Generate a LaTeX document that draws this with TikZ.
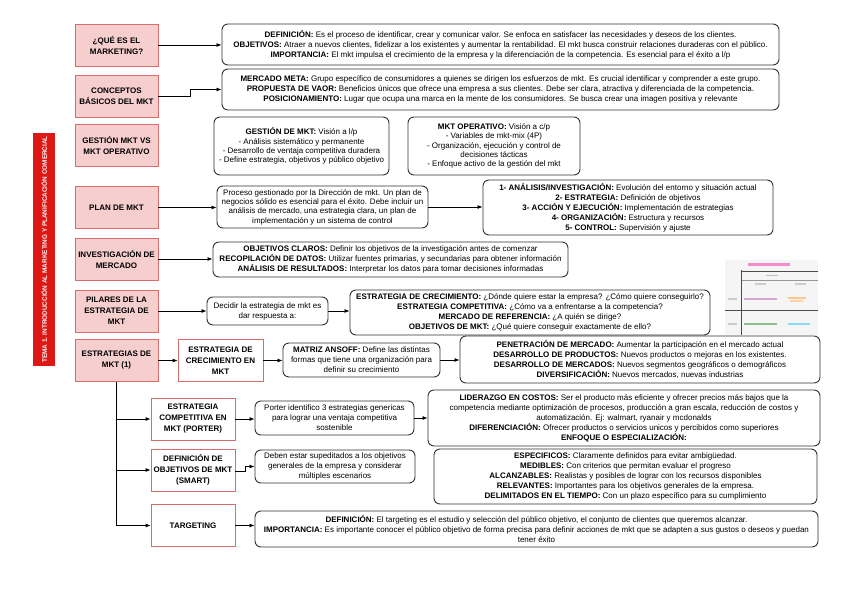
\documentclass[tikz,border=0pt]{standalone}
\usepackage{fontspec}
\setmainfont{Liberation Sans}
\usetikzlibrary{arrows.meta}
\definecolor{pinkfill}{RGB}{246,206,206}
\definecolor{pinkline}{RGB}{214,110,110}
\definecolor{boxline}{RGB}{50,50,50}
\definecolor{barred}{RGB}{222,24,20}
\newcommand\kw[1]{\textbf{#1}}
\tikzset{
  rbox/.style={draw=boxline, rounded corners=6pt, line width=0.9pt, align=center, inner sep=0pt,
    font=\fontsize{8}{10}\selectfont},
  pbox/.style={draw=pinkline, fill=pinkfill, line width=0.8pt, align=center, inner sep=1pt,
    minimum width=83, minimum height=42, font=\bfseries\fontsize{8}{11}\selectfont},
  wbox/.style={pbox, fill=white},
  arr/.style={-{Latex[length=5pt,width=4pt]}, line width=0.8pt, draw=black},
  tight/.style={font=\fontsize{8}{9.4}\selectfont}
}
\begin{document}
\begin{tikzpicture}[x=1pt,y=-1pt]
\useasboundingbox (0,0) rectangle (848,599);
\fill[white] (0,0) rectangle (848,599);

% red bar
\node[rotate=90, fill=barred, minimum width=233, minimum height=22, inner sep=0pt,
  text=white, font=\bfseries\fontsize{6.4}{7}\selectfont] (bar) at (44,249.5)
  {TEMA 1. INTRODUCCIÓN AL MARKETING Y PLANIFICACIÓN COMERCIAL};

% left pink boxes
\node[pbox] (l1) at (116.5,45) {¿QUÉ ES EL\\MARKETING?};
\node[pbox] (l2) at (116.5,96.5) {CONCEPTOS\\BÁSICOS DEL MKT};
\node[pbox] (l3) at (116.5,145) {GESTIÓN MKT VS\\MKT OPERATIVO};
\node[pbox] (l4) at (116.5,207.5) {PLAN DE MKT};
\node[pbox] (l5) at (116.5,259) {INVESTIGACIÓN DE\\MERCADO};
\node[pbox] (l6) at (116.5,311) {PILARES DE LA\\ESTRATEGIA DE\\MKT};
\node[pbox] (l7) at (116.5,360.5) {ESTRATEGIAS DE\\MKT (1)};

% white red-bordered boxes
\node[wbox, minimum width=85] (w1) at (220.5,360.5) {ESTRATEGIA DE\\CRECIMIENTO EN\\MKT};
\node[wbox, minimum width=84] (w2) at (193,419) {ESTRATEGIA\\COMPETITIVA EN\\MKT (PORTER)};
\node[wbox, minimum width=84] (w3) at (193,470) {DEFINICIÓN DE\\OBJETIVOS DE MKT\\(SMART)};
\node[wbox, minimum width=84] (w4) at (193,525.5) {TARGETING};

% right rounded boxes
\node[rbox, minimum width=557, minimum height=41] (qa) at (500.5,44.5) {%
\kw{DEFINICIÓN:} Es el proceso de identificar, crear y comunicar valor. Se enfoca en satisfacer las necesidades y deseos de los clientes.\\
\kw{OBJETIVOS:} Atraer a nuevos clientes, fidelizar a los existentes y aumentar la rentabilidad. El mkt busca construir relaciones duraderas con el público.\\
\kw{IMPORTANCIA:} El mkt impulsa el crecimiento de la empresa y la diferenciación de la competencia. Es esencial para el éxito a l/p};

\node[rbox, minimum width=557, minimum height=41] (qb) at (500.5,89.5) {%
\kw{MERCADO META:} Grupo específico de consumidores a quienes se dirigen los esfuerzos de mkt. Es crucial identificar y comprender a este grupo.\\
\kw{PROPUESTA DE VAOR:} Beneficios únicos que ofrece una empresa a sus clientes. Debe ser clara, atractiva y diferenciada de la competencia.\\
\kw{POSICIONAMIENTO:} Lugar que ocupa una marca en la mente de los consumidores. Se busca crear una imagen positiva y relevante};

\node[rbox, tight, minimum width=175, minimum height=58] (gc1) at (301.5,146) {%
\kw{GESTIÓN DE MKT:} Visión a l/p\\
- Análisis sistemático y permanente\\
- Desarrollo de ventaja competitiva duradera\\
- Define estrategia, objetivos y público objetivo};

\node[rbox, tight, minimum width=172, minimum height=58] (gc2) at (494,146) {%
\kw{MKT OPERATIVO:} Visión a c/p\\
- Variables de mkt-mix (4P)\\
- Organización, ejecución y control de\\
decisiones tácticas\\
- Enfoque activo de la gestión del mkt};

\node[rbox, tight, minimum width=211, minimum height=42] (pd1) at (322.5,207) {%
Proceso gestionado por la Dirección de mkt. Un plan de\\
negocios sólido es esencial para el éxito. Debe incluir un\\
análisis de mercado, una estrategia clara, un plan de\\
implementación y un sistema de control};

\node[rbox, minimum width=290, minimum height=55] (pd2) at (628,207.5) {%
\kw{1- ANÁLISIS/INVESTIGACIÓN:} Evolución del entorno y situación actual\\
\kw{2- ESTRATEGIA:} Definición de objetivos\\
\kw{3- ACCIÓN Y EJECUCIÓN:} Implementación de estrategias\\
\kw{4- ORGANIZACIÓN:} Estructura y recursos\\
\kw{5- CONTROL:} Supervisión y ajuste};

\node[rbox, minimum width=355, minimum height=35] (ie) at (390.5,259.5) {%
\kw{OBJETIVOS CLAROS:} Definir los objetivos de la investigación antes de comenzar\\
\kw{RECOPILACIÓN DE DATOS:} Utilizar fuentes primarias, y secundarias para obtener información\\
\kw{ANÁLISIS DE RESULTADOS:} Interpretar los datos para tomar decisiones informadas};

\node[rbox, minimum width=121, minimum height=28] (pf1) at (267.5,311) {%
Decidir la estrategia de mkt es\\dar respuesta a:};

\node[rbox, minimum width=360, minimum height=45] (pf2) at (530,312.5) {%
\kw{ESTRATEGIA DE CRECIMIENTO:} ¿Dónde quiere estar la empresa? ¿Cómo quiere conseguirlo?\\
\kw{ESTRATEGIA COMPETITIVA:} ¿Cómo va a enfrentarse a la competencia?\\
\kw{MERCADO DE REFERENCIA:} ¿A quién se dirige?\\
\kw{OBJETIVOS DE MKT:} ¿Qué quiere conseguir exactamente de ello?};

\node[rbox, minimum width=157, minimum height=34] (eg1) at (361.5,360) {%
\kw{MATRIZ ANSOFF:} Define las distintas\\
formas que tiene una organización para\\
definir su crecimiento};

\node[rbox, minimum width=360, minimum height=47] (eg2) at (640,359.5) {%
\kw{PENETRACIÓN DE MERCADO:} Aumentar la participación en el mercado actual\\
\kw{DESARROLLO DE PRODUCTOS:} Nuevos productos o mejoras en los existentes.\\
\kw{DESARROLLO DE MERCADOS:} Nuevos segmentos geográficos o demográficos\\
\kw{DIVERSIFICACIÓN:} Nuevos mercados, nuevas industrias};

\node[rbox, minimum width=159, minimum height=34] (eh1) at (334.5,418) {%
Porter identifico 3 estrategias genericas\\
para lograr una ventaja competitiva\\
sostenible};

\node[rbox, minimum width=392, minimum height=56] (eh2) at (624,418) {%
\kw{LIDERAZGO EN COSTOS:} Ser el producto más eficiente y ofrecer precios más bajos que la\\
competencia mediante optimización de procesos, producción a gran escala, reducción de costos y\\
automatización. Ej: walmart, ryanair y mcdonalds\\
\kw{DIFERENCIACIÓN:} Ofrecer productos o servicios unicos y percibidos como superiores\\
\kw{ENFOQUE O ESPECIALIZACIÓN:}};

\node[rbox, minimum width=160, minimum height=33] (ei1) at (335,466.5) {%
Deben estar supeditados a los objetivos\\
generales de la empresa y considerar\\
múltiples escenarios};

\node[rbox, minimum width=383, minimum height=55] (ei2) at (625.5,476.5) {%
\kw{ESPECIFICOS:} Claramente definidos para evitar ambigüedad.\\
\kw{MEDIBLES:} Con criterios que permitan evaluar el progreso\\
\kw{ALCANZABLES:} Realistas y posibles de lograr con los recursos disponibles\\
\kw{RELEVANTES:} Importantes para los objetivos generales de la empresa.\\
\kw{DELIMITADOS EN EL TIEMPO:} Con un plazo específico para su cumplimiento};

\node[rbox, minimum width=563, minimum height=36] (ej) at (536.5,529) {%
\kw{DEFINICIÓN:} El targeting es el estudio y selección del público objetivo, el conjunto de clientes que queremos alcanzar.\\
\kw{IMPORTANCIA:} Es importante conocer el público objetivo de forma precisa para definir acciones de mkt que se adapten a sus gustos o deseos y puedan\\
tener éxito};

% faint picture at right
\fill[black!4] (725,260) rectangle (818,335);
\fill[magenta!45] (748,263) rectangle (790,266);
\draw[black!70, line width=0.5pt] (741,271) -- (818,271);
\fill[black!25] (766,274.5) rectangle (778,276);
\draw[black!40, line width=0.4pt] (741,280) -- (818,280);
\fill[black!20] (755,283) rectangle (766,284.5);
\fill[black!20] (795,283) rectangle (806,284.5);
\draw[black!70, line width=0.5pt] (741,270) -- (741,335);
\draw[black!70, line width=0.5pt] (725,310) -- (818,310);
\fill[black!20] (728,298) rectangle (737,299.5);
\fill[violet!35] (744,298) rectangle (777,299.5);
\fill[orange!45] (788,297) rectangle (806,298.5);
\fill[orange!35] (790,300) rectangle (803,301.5);
\fill[black!20] (728,323) rectangle (737,324.5);
\fill[green!45!black!45] (744,323) rectangle (777,324.5);
\fill[cyan!45] (788,323) rectangle (810,324.5);

% connectors
\coordinate (s2) at (190,96.5);
\draw[arr] (l1.east) -- (l1.east -| qa.west);
\draw[arr] (l2.east) -- (s2) |- (qb.west);
\draw[arr] (l4.east) -- (l4.east -| pd1.west);
\draw[arr] (pd1.east) -- (pd1.east -| pd2.west);
\draw[arr] (l5.east) -- (l5.east -| ie.west);
\draw[arr] (l6.east) -- (l6.east -| pf1.west);
\draw[arr] (pf1.east) -- (pf1.east -| pf2.west);
\draw[arr] (l7.east) -- (w1.west);
\draw[arr] (w1.east) -- (w1.east -| eg1.west);
\draw[arr] (eg1.east) -- (eg1.east -| eg2.west);
\draw[arr] (l7.south) |- (w4.west);
\draw[arr] (l7.south |- w2.west) -- (w2.west);
\draw[arr] (l7.south |- w3.west) -- (w3.west);
\draw[arr] (w2.east) -- (w2.east -| eh1.west);
\draw[arr] (eh1.east) -- (eh1.east -| eh2.west);
\coordinate (s3) at (245,471);
\draw[arr] (w3.east |- s3) -- (s3) |- (ei1.west);
\draw[arr] (w4.east) -- (w4.east -| ej.west);
\end{tikzpicture}
\end{document}
